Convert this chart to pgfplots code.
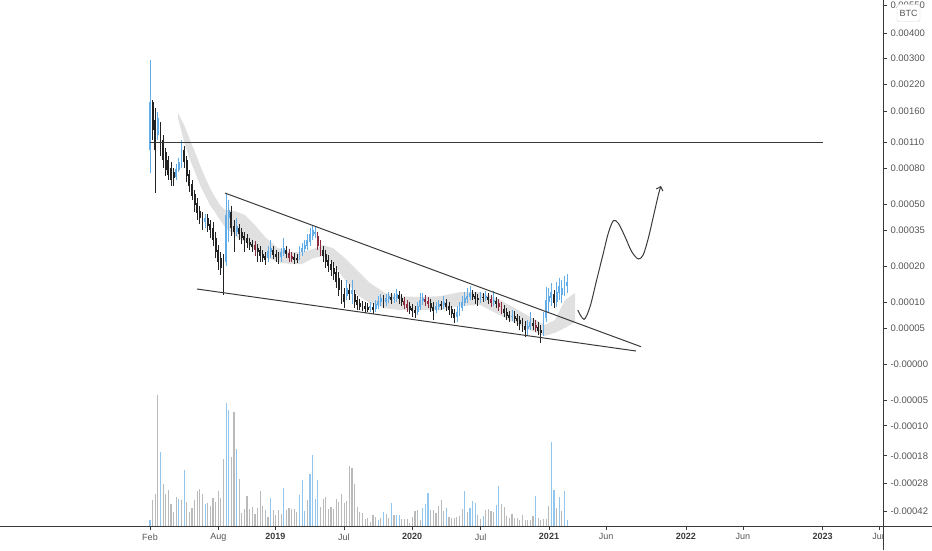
\documentclass[border=0pt]{standalone}
\usepackage{fontspec}
\setmainfont{Liberation Sans}
\usepackage{pgfplots}
\pgfplotsset{compat=1.18}
\usepackage{pgfplotstable}
\usetikzlibrary{arrows.meta}

\definecolor{cblack}{HTML}{222222}
\definecolor{cblue}{HTML}{62ADE8}
\definecolor{cred}{HTML}{8C2B3E}
\definecolor{vgray}{HTML}{BABABA}
\definecolor{vblue}{HTML}{92C6EE}
\definecolor{band}{HTML}{E0E0E0}
\definecolor{ink}{HTML}{3A3A3A}
\definecolor{lab}{HTML}{555555}

% prices in satoshi; the chart's price scale is u = log10(p/10000 + 1)
\newcommand{\U}[1]{(ln((#1)/10000+1)*0.4342945)}
\newcommand{\yr}[1]{\textcolor{ink}{\bfseries #1}}

% weekly candles: i, open, high, low, close (sat), k: 0 down 1 up 2 red, v volume, b blue volume
\pgfplotstableread{
i o h l c k v b
0 100300 292800 75300 178900 1 6 1
1 178900 183300 113400 128000 0 26 0
2 144400 166600 58100 100300 0 32 0
3 120600 159000 113400 148000 1 131 0
4 131300 141100 93100 100300 0 74 1
5 113400 120600 80100 88600 0 42 0
6 97800 102800 72400 78100 0 32 0
7 88600 93100 68800 73300 0 36 0
8 80100 86400 63600 68800 0 22 0
9 76200 80100 63600 70600 0 14 0
10 71500 84200 68800 79100 1 29 0
11 78100 90800 76200 86400 1 27 1
12 84200 113400 80100 102800 1 26 0
13 100300 105300 80100 86400 0 56 1
14 88600 93100 67000 72400 0 24 0
15 74200 78100 58800 63600 0 14 0
16 65300 68800 52900 55800 0 18 0
17 57300 60400 45000 49500 0 26 0
18 50900 54400 40300 44400 0 35 0
19 45600 48800 38100 41400 0 37 0
20 42600 45000 35000 39200 0 32 0
21 39200 43800 36000 41400 1 22 1
22 41400 43800 34000 37000 0 23 0
23 38100 40300 31100 35000 0 20 0
24 36000 39200 27600 30200 0 28 0
25 31100 34000 22800 25100 0 24 0
26 25900 28000 18700 21400 0 35 0
27 22800 25100 17100 19400 0 28 0
28 22100 24400 11700 20000 0 67 0
29 21400 58100 20000 43200 1 123 1
30 41400 52900 29300 46300 1 116 1
31 45000 48800 32000 36000 0 69 0
32 37000 40300 25100 34000 0 114 0
33 34000 41400 32000 37000 1 77 1
34 36000 38100 30200 33000 0 47 0
35 34000 36000 28400 31100 0 13 0
36 32000 34000 25100 30200 0 17 0
37 31100 33000 26700 28900 0 30 0
38 29300 31100 25900 28000 0 17 0
39 28400 30200 25100 27200 0 19 0
40 28000 29700 23600 25900 2 12 0
41 26700 28400 21400 25100 0 18 0
42 25900 27600 21400 23600 0 35 0
43 24400 25900 21400 22800 0 20 0
44 23600 25100 20400 22100 0 16 0
45 22800 27600 21400 25500 1 9 0
46 25100 30200 22800 26700 1 28 1
47 25900 27600 22500 24000 0 16 0
48 24400 25900 21400 23200 0 11 0
49 23600 25100 20700 22800 0 16 0
50 23200 26700 21400 25100 1 12 0
51 24700 31100 23600 26700 1 38 1
52 25900 27600 22800 24400 0 16 0
53 24700 26300 21400 22800 2 18 0
54 23600 25100 21400 22500 2 17 0
55 23200 24700 20700 22100 0 17 0
56 22800 24400 21000 22100 0 14 0
57 22800 27600 22100 25500 1 31 1
58 25100 28900 23600 26700 1 46 1
59 26300 30200 25100 28000 1 15 1
60 27600 33000 25900 30200 1 26 0
61 29300 36000 27600 33000 1 52 1
62 32000 37000 30200 35000 1 71 1
63 33000 37000 31100 34000 1 27 1
64 32000 34000 25900 27600 2 46 1
65 28400 30200 23600 25100 2 19 0
66 25900 27600 21400 23600 0 27 0
67 24400 25900 19400 21400 0 29 0
68 22100 24000 18100 20000 0 17 0
69 20700 22100 16800 18700 0 19 0
70 19400 21400 15700 17500 0 17 0
71 18100 20000 13500 15100 0 27 0
72 16200 18100 11400 12900 0 24 0
73 14000 15700 9600 11000 0 32 0
74 11900 13500 8700 10100 0 23 0
75 11400 15700 10500 13500 1 25 0
76 12900 14500 10500 11900 0 60 0
77 11900 15700 9600 12900 1 58 0
78 11900 12900 8700 10100 0 42 0
79 10500 11400 8300 9400 0 19 0
80 9800 10700 8300 9000 0 14 0
81 9400 10300 8100 8700 0 13 0
82 9200 10100 7700 8500 0 7 0
83 9000 9800 7900 8300 0 8 0
84 8700 10100 7900 9200 1 4 0
85 9000 9800 7500 8300 0 11 0
86 8500 10500 7900 9600 1 9 0
87 9400 11400 8500 10300 1 6 1
88 10100 11900 9200 11000 1 8 0
89 10700 11700 8700 9800 0 14 1
90 10100 11900 9200 11000 1 12 0
91 10700 12400 9800 11400 1 8 0
92 11200 12200 9600 10500 0 23 1
93 10700 12200 9800 11200 1 11 0
94 11000 13200 10100 11900 1 11 1
95 11700 12700 9600 10700 0 11 1
96 11000 11900 9200 10100 0 7 0
97 10300 11200 8500 9400 2 7 0
98 9600 10500 7900 8700 2 7 0
99 9200 10100 7500 8300 0 3 0
100 8700 9600 7000 8100 0 9 0
101 8300 9200 6800 7700 0 15 0
102 7900 10100 7300 9200 1 16 0
103 9000 12200 8300 10500 1 6 0
104 10300 12200 9400 11000 1 18 1
105 10700 11700 9200 10100 2 22 1
106 10300 11200 8700 9600 2 33 1
107 9800 10700 7900 8700 0 16 0
108 9000 10100 6400 8100 0 16 0
109 8300 10100 7700 9200 1 13 0
110 9000 10500 8300 9600 1 20 0
111 9600 10300 8300 9200 0 26 0
112 9400 11400 8500 10100 1 15 0
113 9800 10700 8100 9000 0 18 1
114 9200 10100 7300 8300 0 9 0
115 8500 9200 6800 7500 0 8 0
116 7700 8500 5800 6800 0 8 0
117 6900 9200 6000 7900 1 9 0
118 7700 10100 7100 9000 1 10 0
119 8700 11400 8100 10100 1 17 0
120 9800 12400 9200 11000 1 35 1
121 10700 13500 9800 11400 1 14 0
122 11200 14000 10500 12200 1 18 1
123 11900 12900 10500 11200 0 25 1
124 11400 12400 9600 10700 0 23 1
125 11000 11900 9200 10500 0 11 0
126 10500 12400 9800 11400 1 7 0
127 11200 12200 10100 11000 0 10 1
128 11000 12700 10300 11400 1 16 0
129 11200 12200 9600 10500 0 17 0
130 10700 11700 9000 9800 2 15 0
131 10100 12700 9200 10500 1 14 0
132 10300 11200 8700 9600 0 21 1
133 9800 10700 8100 9000 2 40 1
134 9200 10100 7500 8300 2 22 0
135 8500 9400 7000 7700 0 19 0
136 7900 8700 6400 7100 0 10 0
137 7300 8100 6000 6800 0 8 0
138 6900 8300 6200 7100 1 12 0
139 7100 8100 5800 6600 0 8 0
140 6800 7500 5300 6200 0 8 0
141 6400 7100 4600 5700 0 6 0
142 5800 6800 4300 5200 0 11 0
143 5300 6200 3500 4600 0 6 0
144 4800 6400 3700 5300 1 6 0
145 5200 7900 4600 6000 1 6 0
146 5800 6800 4600 5300 0 10 0
147 5500 6400 4300 5000 2 30 1
148 5200 6000 3800 4500 0 8 0
149 4600 5500 2700 4200 0 6 0
150 4300 7900 3700 6800 1 7 0
151 6800 13700 6000 10500 1 7 0
152 10100 13500 7900 11400 1 20 0
153 11000 14800 9200 12400 1 84 1
154 11900 12900 8700 9800 0 36 1
155 10100 15100 9000 12400 1 18 0
156 12200 16200 10500 14000 1 29 1
157 11700 15700 9800 13500 1 15 0
158 12900 16800 11400 14500 1 35 1
159 14000 17400 12200 15200 1 6 1
}\candles

% grey band outline: upper edge left to right, then lower edge right to left
% (x in months from Jan 2018, p in sat)
\pgfplotstableread{
x p
3.456 157200
4.070 132900
4.509 113400
4.947 97800
5.386 83200
5.825 71500
6.263 62000
6.702 55100
7.140 49500
7.579 46300
8.456 45600
9.333 43200
10.211 37500
11.088 31600
12.228 26700
13.281 25100
14.333 25100
15.298 26300
16.175 28000
17.053 26700
18.105 22800
19.158 18700
20.298 14800
21.614 12200
22.930 11400
24.684 11200
26.439 11400
28.193 12400
29.947 12400
31.702 10500
33.018 8700
34.333 6950
35.649 5500
36.526 6400
37.404 10500
38.281 12200
38.281 6000
37.404 5000
36.526 4200
35.649 3700
34.333 4600
33.018 5800
31.702 7300
29.947 9400
28.193 9200
26.439 8300
24.684 8300
22.930 8300
21.614 8700
20.298 9800
19.158 11700
18.105 15700
17.053 20700
16.175 23600
15.298 22800
14.333 20700
13.281 20700
12.228 21400
11.088 23200
10.211 25900
9.333 29300
8.456 32000
7.579 36500
7.140 40300
6.702 45000
6.263 49500
5.825 56600
5.386 64500
4.947 76200
4.509 88600
4.070 106800
3.456 148000
}\band

\pgfplotsset{
  frame/.style={at={(0,0)}, anchor=south west, width=883pt, height=526pt,
    scale only axis, xmin=-12.158, xmax=65.298},
  % one vertical stroke per candle: from low to high (wick) or open to close (body)
  wick/.style 2 args={#1, line width=0.8pt, mark=none,
    restrict expr to domain={\thisrow{k}}{#2:#2},
    quiver={u=0, v={\U{\thisrow{h}}-\U{\thisrow{l}}}}},
  body/.style 2 args={#1, line width=1.9pt, mark=none,
    restrict expr to domain={\thisrow{k}}{#2:#2},
    quiver={u=0, v={abs(\U{\thisrow{o}}-\U{\thisrow{c}})}}},
}

\begin{document}
\begin{tikzpicture}
\useasboundingbox (0,-24pt) rectangle (932pt,526pt);

% volume pane
\begin{axis}[frame, hide axis, ymin=0, ymax=526]
  \addplot[ycomb, vgray, line width=1.15pt, mark=none,
    restrict expr to domain={\thisrow{b}}{0:0}]
    table[x expr=1+0.2301*\thisrow{i}, y=v] {\candles};
  \addplot[ycomb, vblue, line width=1.15pt, mark=none,
    restrict expr to domain={\thisrow{b}}{1:1}]
    table[x expr=1+0.2301*\thisrow{i}, y=v] {\candles};
\end{axis}

% price pane
\begin{axis}[frame, ymin=-0.7895, ymax=1.7739,
  axis line style={draw=none},
  xtick={1,7,12,18,24,30,36,41,48,53,60,65},
  xticklabels={Feb,Aug,\yr{2019},Jul,\yr{2020},Jul,\yr{2021},Jun,\yr{2022},Jun,\yr{2023},Jun},
  ytick={1.7482,1.6128,1.4914,1.3617,1.2304,1.0792,0.9542,0.7782,0.6532,0.4771,0.3010,0.1761,0,-0.1761,-0.3010,-0.4472,-0.5798,-0.7160},
  yticklabels={0.00550,0.00400,0.00300,0.00220,0.00160,0.00110,0.00080,0.00050,0.00035,0.00020,0.00010,0.00005,-0.00000,-0.00005,-0.00010,-0.00018,-0.00028,-0.00042},
  xtick pos=bottom, ytick pos=right, yticklabel pos=right,
  tick align=outside, major tick length=4pt,
  tick style={ink, line width=0.6pt},
  xticklabel style={font=\fontsize{9}{11}\selectfont, text=lab},
  yticklabel style={font=\fontsize{9.5}{11}\selectfont, text=lab, anchor=west},
]
  \addplot[fill=band, draw=none] table[x=x, y expr={\U{\thisrow{p}}}] {\band};

  \addplot[wick={cblack}{0}] table[x expr=1+0.2301*\thisrow{i}, y expr={\U{\thisrow{l}}}] {\candles};
  \addplot[wick={cblue}{1}]  table[x expr=1+0.2301*\thisrow{i}, y expr={\U{\thisrow{l}}}] {\candles};
  \addplot[wick={cred}{2}]   table[x expr=1+0.2301*\thisrow{i}, y expr={\U{\thisrow{l}}}] {\candles};
  \addplot[body={cblack}{0}] table[x expr=1+0.2301*\thisrow{i},
    y expr={min(\U{\thisrow{o}},\U{\thisrow{c}})}] {\candles};
  \addplot[body={cblue}{1}]  table[x expr=1+0.2301*\thisrow{i},
    y expr={min(\U{\thisrow{o}},\U{\thisrow{c}})}] {\candles};
  \addplot[body={cred}{2}]   table[x expr=1+0.2301*\thisrow{i},
    y expr={min(\U{\thisrow{o}},\U{\thisrow{c}})}] {\candles};

  % drawn level and wedge
  \addplot[ink, line width=1pt] table[x=x, y expr={\U{\thisrow{p}}}, row sep=\\]
    {x p \\ 1.0 110000 \\ 60.04 110000 \\};
  \addplot[ink, line width=1pt] table[x=x, y expr={\U{\thisrow{p}}}, row sep=\\]
    {x p \\ 7.579 58100 \\ 44.07 2140 \\};
  \addplot[ink, line width=1pt] table[x=x, y expr={\U{\thisrow{p}}}, row sep=\\]
    {x p \\ 5.123 13200 \\ 43.63 1570 \\};
  % projected path
  \addplot[ink, line width=1pt, smooth, -{Straight Barb[length=3.5pt, width=7pt]}]
    table[x=x, y expr={\U{\thisrow{p}}}, row sep=\\] {
    x p \\ 38.52 8330 \\ 39.07 6510 \\ 39.60 9020 \\ 40.18 15660 \\
    40.76 24600 \\ 41.20 33400 \\ 41.64 39900 \\ 42.08 38500 \\
    42.67 31700 \\ 43.25 25300 \\ 43.83 22500 \\ 44.26 24000 \\
    44.71 31000 \\ 45.15 42200 \\ 45.59 56600 \\ 45.82 63700 \\};
\end{axis}

\fill[white] (883.6pt,-24pt) rectangle (932pt,-0.8pt);
\draw[ink, line width=0.8pt] (0,0) -- (932pt,0);
\draw[ink, line width=0.8pt] (883pt,-24pt) -- (883pt,526pt);
\node[draw=black!18, fill=white, rounded corners=2pt, text=lab,
  font=\fontsize{9}{10}\selectfont, inner xsep=2.5pt, minimum height=17pt]
  at (908.5pt,513pt) {BTC};
\end{tikzpicture}
\end{document}
